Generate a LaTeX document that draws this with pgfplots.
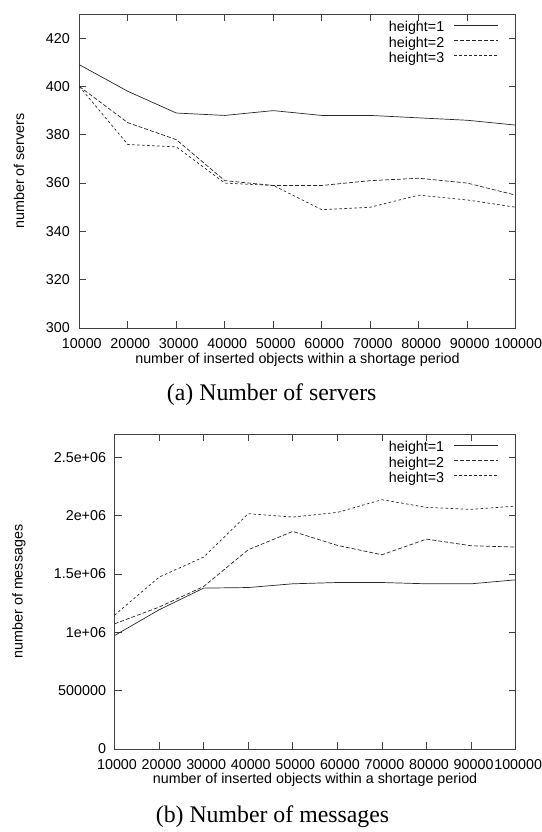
\documentclass[border=0pt]{standalone}
\usepackage{fontspec}
\setmainfont{Liberation Serif}
\setsansfont{Liberation Sans}
\usepackage{pgfplots}
\pgfplotsset{compat=1.18}
\newcommand\tf{\sffamily\fontsize{14.3}{16}\selectfont}
\pgfplotsset{
 gp/.style={
  scale only axis,
  axis line style={black!75, line width=0.7pt},
  tick style={black!75, line width=0.7pt},
  major tick length=7pt,
  tick align=inside,
  /pgf/number format/assume math mode=true,
  /pgf/number format/1000 sep={},
  scaled ticks=false,
  tick label style={font=\tf, black},
  xticklabel style={inner sep=1pt, yshift=-9.3pt, xshift=2.5pt},
  label style={font=\tf, inner sep=0pt},
  xmin=10000, xmax=100000,
  xtick={10000,20000,30000,40000,50000,60000,70000,80000,90000,100000},
  xticklabels={10000,20000,30000,40000,50000,60000,70000,80000,90000,100000},
  legend style={draw=none, fill=none, font=\tf, inner sep=0pt, outer sep=0pt, row sep=2.4pt,
    nodes={inner sep=0pt, text height=10pt, text depth=3pt},
    /tikz/every odd column/.append style={column sep=9.7pt}},
  legend cell align=right,
  legend plot pos=right,
  legend image code/.code={\draw[##1] (0pt,3.5pt) -- (43.8pt,3.5pt);},
 },
 s1/.style={black!85, line width=0.7pt, solid},
 s2/.style={black!85, line width=0.7pt, dash pattern=on 4pt off 2pt},
 s3/.style={black!85, line width=0.7pt, dash pattern=on 2.5pt off 2.5pt},
}
\begin{document}
\begin{tikzpicture}[x=1pt,y=1pt]
\begin{axis}[gp,
  at={(79.3pt,504pt)}, anchor=south west, width=436.4pt, height=314pt,
  ymin=300, ymax=430, ytick={300,320,340,360,380,400,420},
  yticklabel style={xshift=-6pt},
  xlabel={number of inserted objects within a shortage period},
  ylabel={number of servers},
  xlabel style={at={(axis description cs:0.5,-0.101)}, anchor=center},
  ylabel style={at={(axis description cs:-0.1384,0.5)}, anchor=center},
  legend style={at={(rel axis cs:0.9604,0.9748)}, anchor=north east},
]
\addplot[s1] coordinates {(10000,409) (20000,398) (30000,389) (40000,388) (50000,390) (60000,388) (70000,388) (80000,387) (90000,386) (100000,384)};
\addlegendentry{height=1}
\addplot[s2] coordinates {(10000,400) (20000,385) (30000,378) (40000,361) (50000,359) (60000,359) (70000,361) (80000,362) (90000,360) (100000,355)};
\addlegendentry{height=2}
\addplot[s3] coordinates {(10000,400) (20000,376) (30000,375) (40000,360) (50000,359) (60000,349) (70000,350) (80000,355) (90000,353) (100000,350)};
\addlegendentry{height=3}
\end{axis}
\begin{axis}[gp,
  at={(114.5pt,83pt)}, anchor=south west, width=401.2pt, height=315pt,
  ymin=0, ymax=2700000, ytick={0,500000,1000000,1500000,2000000,2500000},
  yticklabels={0,500000,1e+06,1.5e+06,2e+06,2.5e+06},
  yticklabel style={xshift=-5pt},
  xlabel={number of inserted objects within a shortage period},
  ylabel={number of messages},
  xlabel style={at={(axis description cs:0.5,-0.0993)}, anchor=center},
  ylabel style={at={(axis description cs:-0.2383,0.5)}, anchor=center},
  legend style={at={(rel axis cs:0.9569,0.975)}, anchor=north east},
]
\addplot[s1] coordinates {(10000,972000) (20000,1193000) (30000,1379000) (40000,1384000) (50000,1416000) (60000,1427000) (70000,1427000) (80000,1416000) (90000,1416000) (100000,1450000)};
\addlegendentry{height=1}
\addplot[s2] coordinates {(10000,1073000) (20000,1216000) (30000,1393000) (40000,1708000) (50000,1865000) (60000,1745000) (70000,1665000) (80000,1799000) (90000,1742000) (100000,1731000)};
\addlegendentry{height=2}
\addplot[s3] coordinates {(10000,1147000) (20000,1473000) (30000,1645000) (40000,2017000) (50000,1988000) (60000,2028000) (70000,2137000) (80000,2071000) (90000,2054000) (100000,2082000)};
\addlegendentry{height=3}
\end{axis}
\node[font=\fontsize{23.8}{27}\selectfont] at (271.7pt,437pt) {(a) Number of servers};
\node[font=\fontsize{23.8}{27}\selectfont] at (272.5pt,15.5pt) {(b) Number of messages};
\pgfresetboundingbox
\path (0pt,0pt) rectangle (541pt,832pt);
\end{tikzpicture}
\end{document}
